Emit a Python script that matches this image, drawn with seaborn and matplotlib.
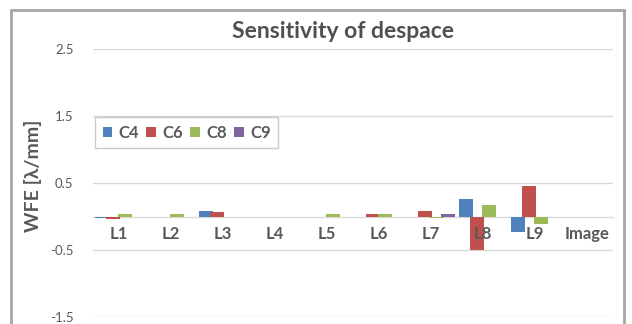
import matplotlib
matplotlib.use("Agg")
import matplotlib.pyplot as plt
from matplotlib.patches import Patch
from matplotlib.lines import Line2D
import pandas as pd
import seaborn as sns

# Sensitivity of each surface coefficient to despace, per element
categories = ["L1", "L2", "L3", "L4", "L5", "L6", "L7", "L8", "L9", "Image"]
c4 = [-0.025, 0.0, 0.087, 0.0, 0.0, 0.0, 0.0, 0.257, -0.228, 0.0]
c6 = [-0.035, 0.0, 0.063, 0.0, 0.0, 0.03, 0.078, -0.5, 0.46, 0.0]
c8 = [0.03, 0.03, 0.0, 0.0, 0.03, 0.03, -0.025, 0.165, -0.108, 0.0]
c9 = [0.0, 0.0, 0.0, 0.0, 0.0, 0.0, 0.03, 0.0, 0.0, 0.0]
series_names = ["C4", "C6", "C8", "C9"]
y_ticks = [-1.5, -0.5, 0.5, 1.5, 2.5]

colors = ["#4F81BD", "#C0504D", "#9BBB59", "#8064A2"]
text_gray = "#595959"
grid_gray = "#D9D9D9"

df = pd.DataFrame({
    "element": categories * 4,
    "coef": [n for n in series_names for _ in categories],
    "wfe": c4 + c6 + c8 + c9,
})

sns.set_theme(style="white")
plt.rcParams["font.family"] = ["Lato", "DejaVu Sans"]

W, H = 632, 324
fig = plt.figure(figsize=(W / 100, H / 100), dpi=100)
left, right, top, bottom = 93, 613, 49, 317
ax = fig.add_axes([left / W, 1 - bottom / H, (right - left) / W, (bottom - top) / H])

sns.barplot(data=df, x="element", y="wfe", hue="coef", order=categories,
            hue_order=series_names, palette=colors, width=0.85,
            linewidth=0, saturation=1, ax=ax, legend=False)

# Slightly overlapping columns, as in clustered column charts
for p in ax.patches:
    cx = p.get_x() + p.get_width() / 2
    p.set_width(0.27)
    p.set_x(cx - 0.135)

ax.set_ylim(-1.5, 2.5)
ax.set_xlim(-0.5, len(categories) - 0.5)
ax.set_yticks(y_ticks)
ax.set_yticklabels([f"{t:g}" for t in y_ticks])
ax.yaxis.grid(True, color=grid_gray, linewidth=1)
ax.set_axisbelow(True)
# category labels sit on top of the columns
ax.xaxis.set_zorder(5)

for s in ["left", "right", "top"]:
    ax.spines[s].set_visible(False)
ax.spines["bottom"].set_position(("data", 0))
ax.spines["bottom"].set_color(grid_gray)
ax.spines["bottom"].set_linewidth(1)
ax.spines["bottom"].set_zorder(0.6)

ax.tick_params(axis="y", length=0, pad=14, labelsize=9.5, labelcolor=text_gray)
ax.tick_params(axis="x", length=0, pad=7, labelsize=12, labelcolor=text_gray)
for lab in ax.get_xticklabels():
    lab.set_fontweight("bold")
ax.set_xlabel("")
ax.set_ylabel("")

fig.text(33 / W, 1 - 176 / H, "WFE [λ/mm]", rotation=90, ha="center", va="center",
         fontsize=14, fontweight="bold", color=text_gray)
fig.text(343 / W, 1 - 32 / H, "Sensitivity of despace", ha="center", va="center",
         fontsize=16.5, fontweight="bold", color="#505050")

handles = [Patch(facecolor=c, edgecolor="none") for c in colors]
leg = fig.legend(handles, series_names, ncol=4, loc="upper left",
                 bbox_to_anchor=(95 / W, 1 - 117 / H), borderaxespad=0,
                 frameon=True, fancybox=False,
                 handlelength=0.55, handleheight=0.55, handletextpad=0.4,
                 columnspacing=0.45, borderpad=0.45, prop={"size": 12, "weight": "bold"})
leg.get_frame().set_edgecolor("#BFBFBF")
leg.get_frame().set_linewidth(1)
for t in leg.get_texts():
    t.set_color(text_gray)

# Chart area border (open at the bottom)
border = "#A6A6A6"
fig.add_artist(Line2D([11 / W, 11 / W], [0, 1 - 10 / H], transform=fig.transFigure,
                      color=border, linewidth=2))
fig.add_artist(Line2D([11 / W, 624 / W], [1 - 10 / H, 1 - 10 / H], transform=fig.transFigure,
                      color=border, linewidth=2))
fig.add_artist(Line2D([624 / W, 624 / W], [0, 1 - 10 / H], transform=fig.transFigure,
                      color=border, linewidth=2))

fig.savefig("out.png", dpi=100)
